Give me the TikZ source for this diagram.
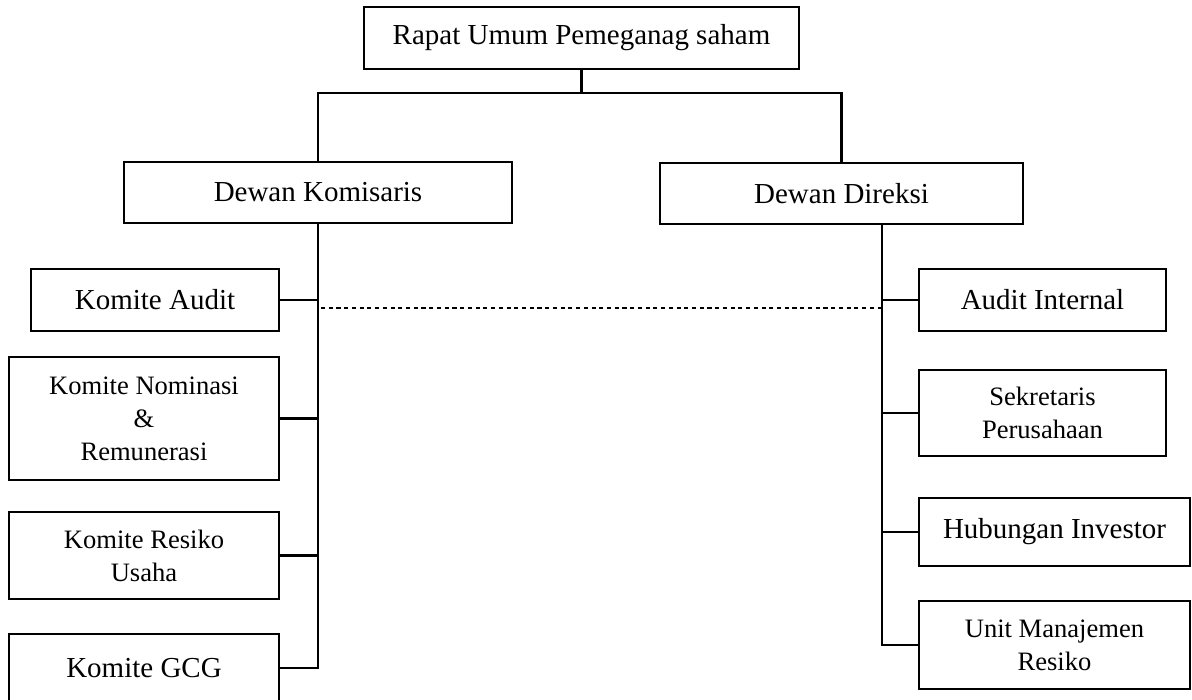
\documentclass[tikz,border=0pt]{standalone}
\usepackage{fontspec}
\setmainfont{Liberation Serif}
\usepackage{tikz}
\usetikzlibrary{positioning}
\newcommand{\pxu}{0.414pt}

\tikzset{
  orgbox/.style={draw,line width=0.85pt,inner sep=0pt,align=center,
                 font=\fontsize{12}{14}\selectfont},
  smallbox/.style={orgbox,font=\fontsize{11}{13.6}\selectfont},
  orgline/.style={line width=0.85pt},
  dotline/.style={line width=0.6pt,dash pattern=on 1.7pt off 1.5pt}
}

\begin{document}
\begin{tikzpicture}[x=\pxu,y=-\pxu]
  \clip (0,0) rectangle (1192,699);

  % top levels
  \node[orgbox,minimum width=435*\pxu,minimum height=62*\pxu] (rups) at (581.5,38) {Rapat Umum Pemeganag saham};
  \node[orgbox,minimum width=388*\pxu,minimum height=61*\pxu] (kom) at (318,192.5) {Dewan Komisaris};
  \node[orgbox,minimum width=363*\pxu,minimum height=61*\pxu] (dir) at (841.5,193.5) {Dewan Direksi};

  % committees under the commissioners
  \node[orgbox,minimum width=248*\pxu,minimum height=62*\pxu] (audit) at (155,300) {Komite Audit};
  \node[smallbox,minimum width=270*\pxu,minimum height=123*\pxu] (nom) at (144,418.5)
    {\fontsize{11}{12.4}\selectfont Komite Nominasi\\ \&\\ Remunerasi};
  \node[smallbox,minimum width=270*\pxu,minimum height=87*\pxu] (resiko) at (144,555.5) {Komite Resiko\\ Usaha};
  \node[orgbox,minimum width=270*\pxu,minimum height=68*\pxu] (gcg) at (144,668) {Komite GCG};

  % units under the directors
  \node[orgbox,minimum width=247*\pxu,minimum height=62*\pxu] (intaudit) at (1042.5,300) {Audit Internal};
  \node[smallbox,minimum width=247*\pxu,minimum height=86*\pxu] (sekper) at (1042.5,413) {Sekretaris\\ Perusahaan};
  \node[orgbox,minimum width=271*\pxu,minimum height=68*\pxu] (invest) at (1054.5,532) {Hubungan Investor};
  \node[smallbox,minimum width=271*\pxu,minimum height=88*\pxu] (risk) at (1054.5,645) {Unit Manajemen\\ Resiko};

  % connectors
  \coordinate (split) at (581.5,93);
  \coordinate (rtrunk) at (882,224);
  \draw[orgline] (rups) -- (split);
  \draw[orgline] (kom.north) |- (split) -| (dir.north);
  \draw[orgline] (kom.south) |- (gcg.east);
  \draw[orgline] (audit.east) -- (audit.east -| kom.south);
  \draw[orgline] (nom.east) -- (nom.east -| kom.south);
  \draw[orgline] (resiko.east) -- (resiko.east -| kom.south);
  \draw[orgline] (rtrunk) |- (risk.west);
  \draw[orgline] (intaudit.west) -- (intaudit.west -| rtrunk);
  \draw[orgline] (sekper.west) -- (sekper.west -| rtrunk);
  \draw[orgline] (invest.west) -- (invest.west -| rtrunk);

  \coordinate (dotl) at (321,308);
  \coordinate (dotr) at (881,308);
  \draw[dotline] (dotl) -- (dotr);
\end{tikzpicture}
\end{document}
